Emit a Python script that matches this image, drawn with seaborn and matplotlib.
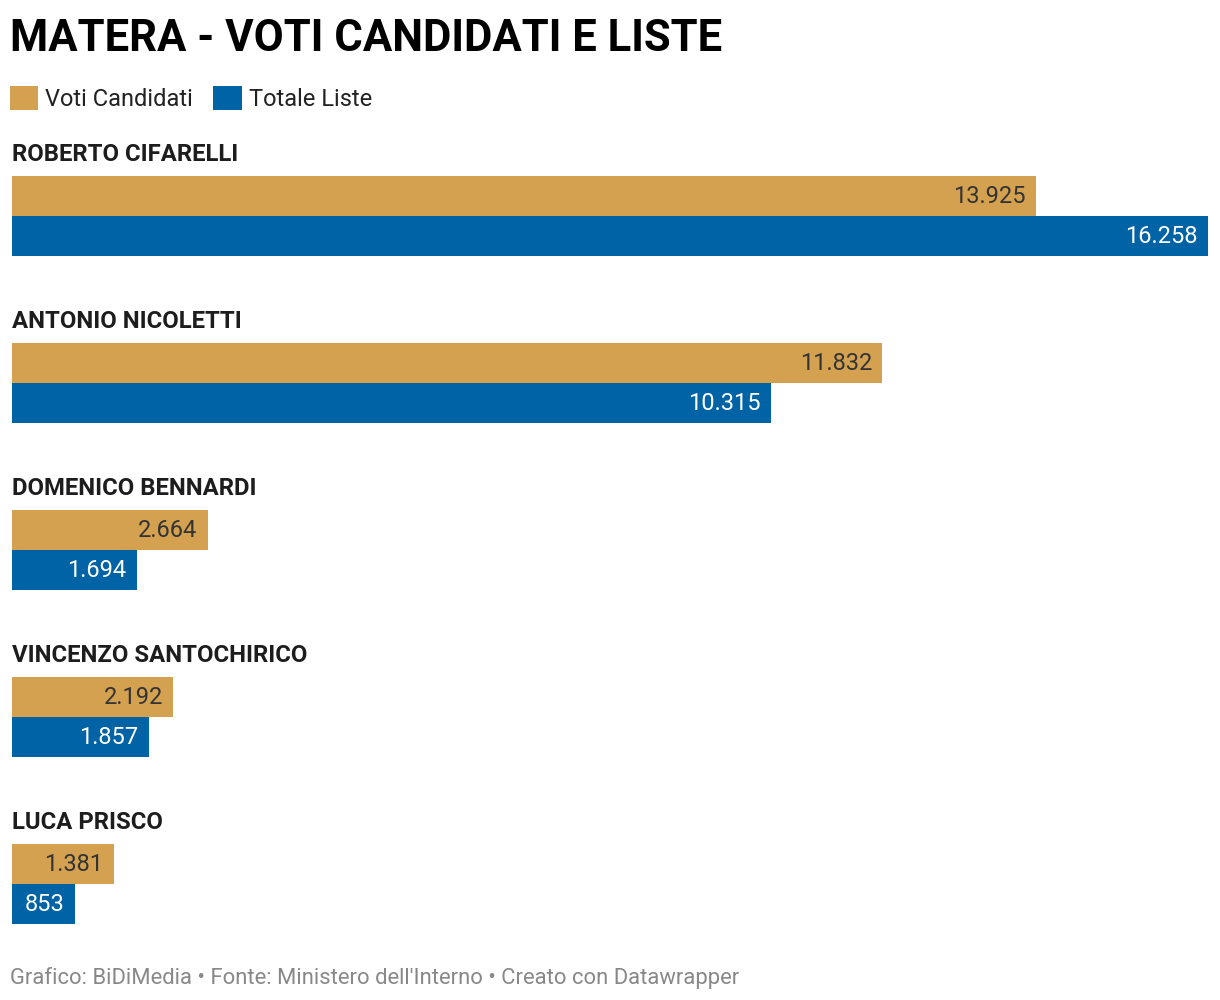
import pandas as pd
import seaborn as sns
import matplotlib.pyplot as plt

# data
candidati = ["ROBERTO CIFARELLI", "ANTONIO NICOLETTI", "DOMENICO BENNARDI",
             "VINCENZO SANTOCHIRICO", "LUCA PRISCO"]
voti_candidati = [13925, 11832, 2664, 2192, 1381]
totale_liste = [16258, 10315, 1694, 1857, 853]
serie = ["Voti Candidati", "Totale Liste"]
colori = ["#D4A150", "#0063A6"]

df = pd.DataFrame({
    "candidato": candidati * 2,
    "serie": [serie[0]] * len(candidati) + [serie[1]] * len(candidati),
    "voti": voti_candidati + totale_liste,
})

sns.set_theme(style="white")
plt.rcParams["font.family"] = ["Roboto", "DejaVu Sans"]

W, H = 1220, 1000
fig = plt.figure(figsize=(W / 100, H / 100), dpi=100)

# axes placed in pixels: one category unit = 167 px, first group centre at y=216
unit = 167
top_px = 216 - 0.5 * unit
bot_px = top_px + 5 * unit
ax = fig.add_axes([12 / W, 1 - bot_px / H, 1196 / W, (bot_px - top_px) / H])

sns.barplot(data=df, y="candidato", x="voti", hue="serie", hue_order=serie,
            palette=colori, width=80 / unit, orient="h", ax=ax,
            saturation=1, linewidth=0, legend=True)

ax.set_xlim(0, max(totale_liste))
ax.set_ylim(4.5, -0.5)
ax.set_xlabel("")
ax.set_ylabel("")
ax.set_xticks([])
ax.set_yticks([])
sns.despine(ax=ax, left=True, bottom=True)

# value labels inside the bar end
def fmt(v):
    return f"{int(v):,}".replace(",", ".")

for cont, col in zip(ax.containers, ["#333333", "white"]):
    for bar in cont:
        w = bar.get_width()
        yc = bar.get_y() + bar.get_height() / 2
        ax.annotate(fmt(w), (w, yc), xytext=(-7.5, 1.2), textcoords="offset points",
                    ha="right", va="center_baseline", fontsize=17, color=col)

# candidate names above each group
for i, name in enumerate(candidati):
    ax.text(0, i - 0.33, name, ha="left", va="baseline", fontsize=17.2,
            fontweight="bold", color="#1d1d1d",
            transform=ax.transData)

sns.move_legend(ax, "upper left", bbox_to_anchor=(-2 / 1196, 1 + (top_px - 86) / (bot_px - top_px)),
                ncol=2, frameon=False, title=None, fontsize=17,
                handlelength=1.2, handleheight=1.2, handletextpad=0.3,
                columnspacing=0.85, borderpad=0, borderaxespad=0)
for t in ax.get_legend().get_texts():
    t.set_color("#222222")

fig.text(10 / W, 1 - 51 / H, "MATERA - VOTI CANDIDATI E LISTE", ha="left",
         va="baseline", fontsize=31.4, fontweight="bold", color="black")
fig.text(10 / W, 1 - 984 / H,
         "Grafico: BiDiMedia • Fonte: Ministero dell'Interno • Creato con Datawrapper",
         ha="left", va="baseline", fontsize=15.8, color="#888888")

fig.savefig("out.png", dpi=100)
